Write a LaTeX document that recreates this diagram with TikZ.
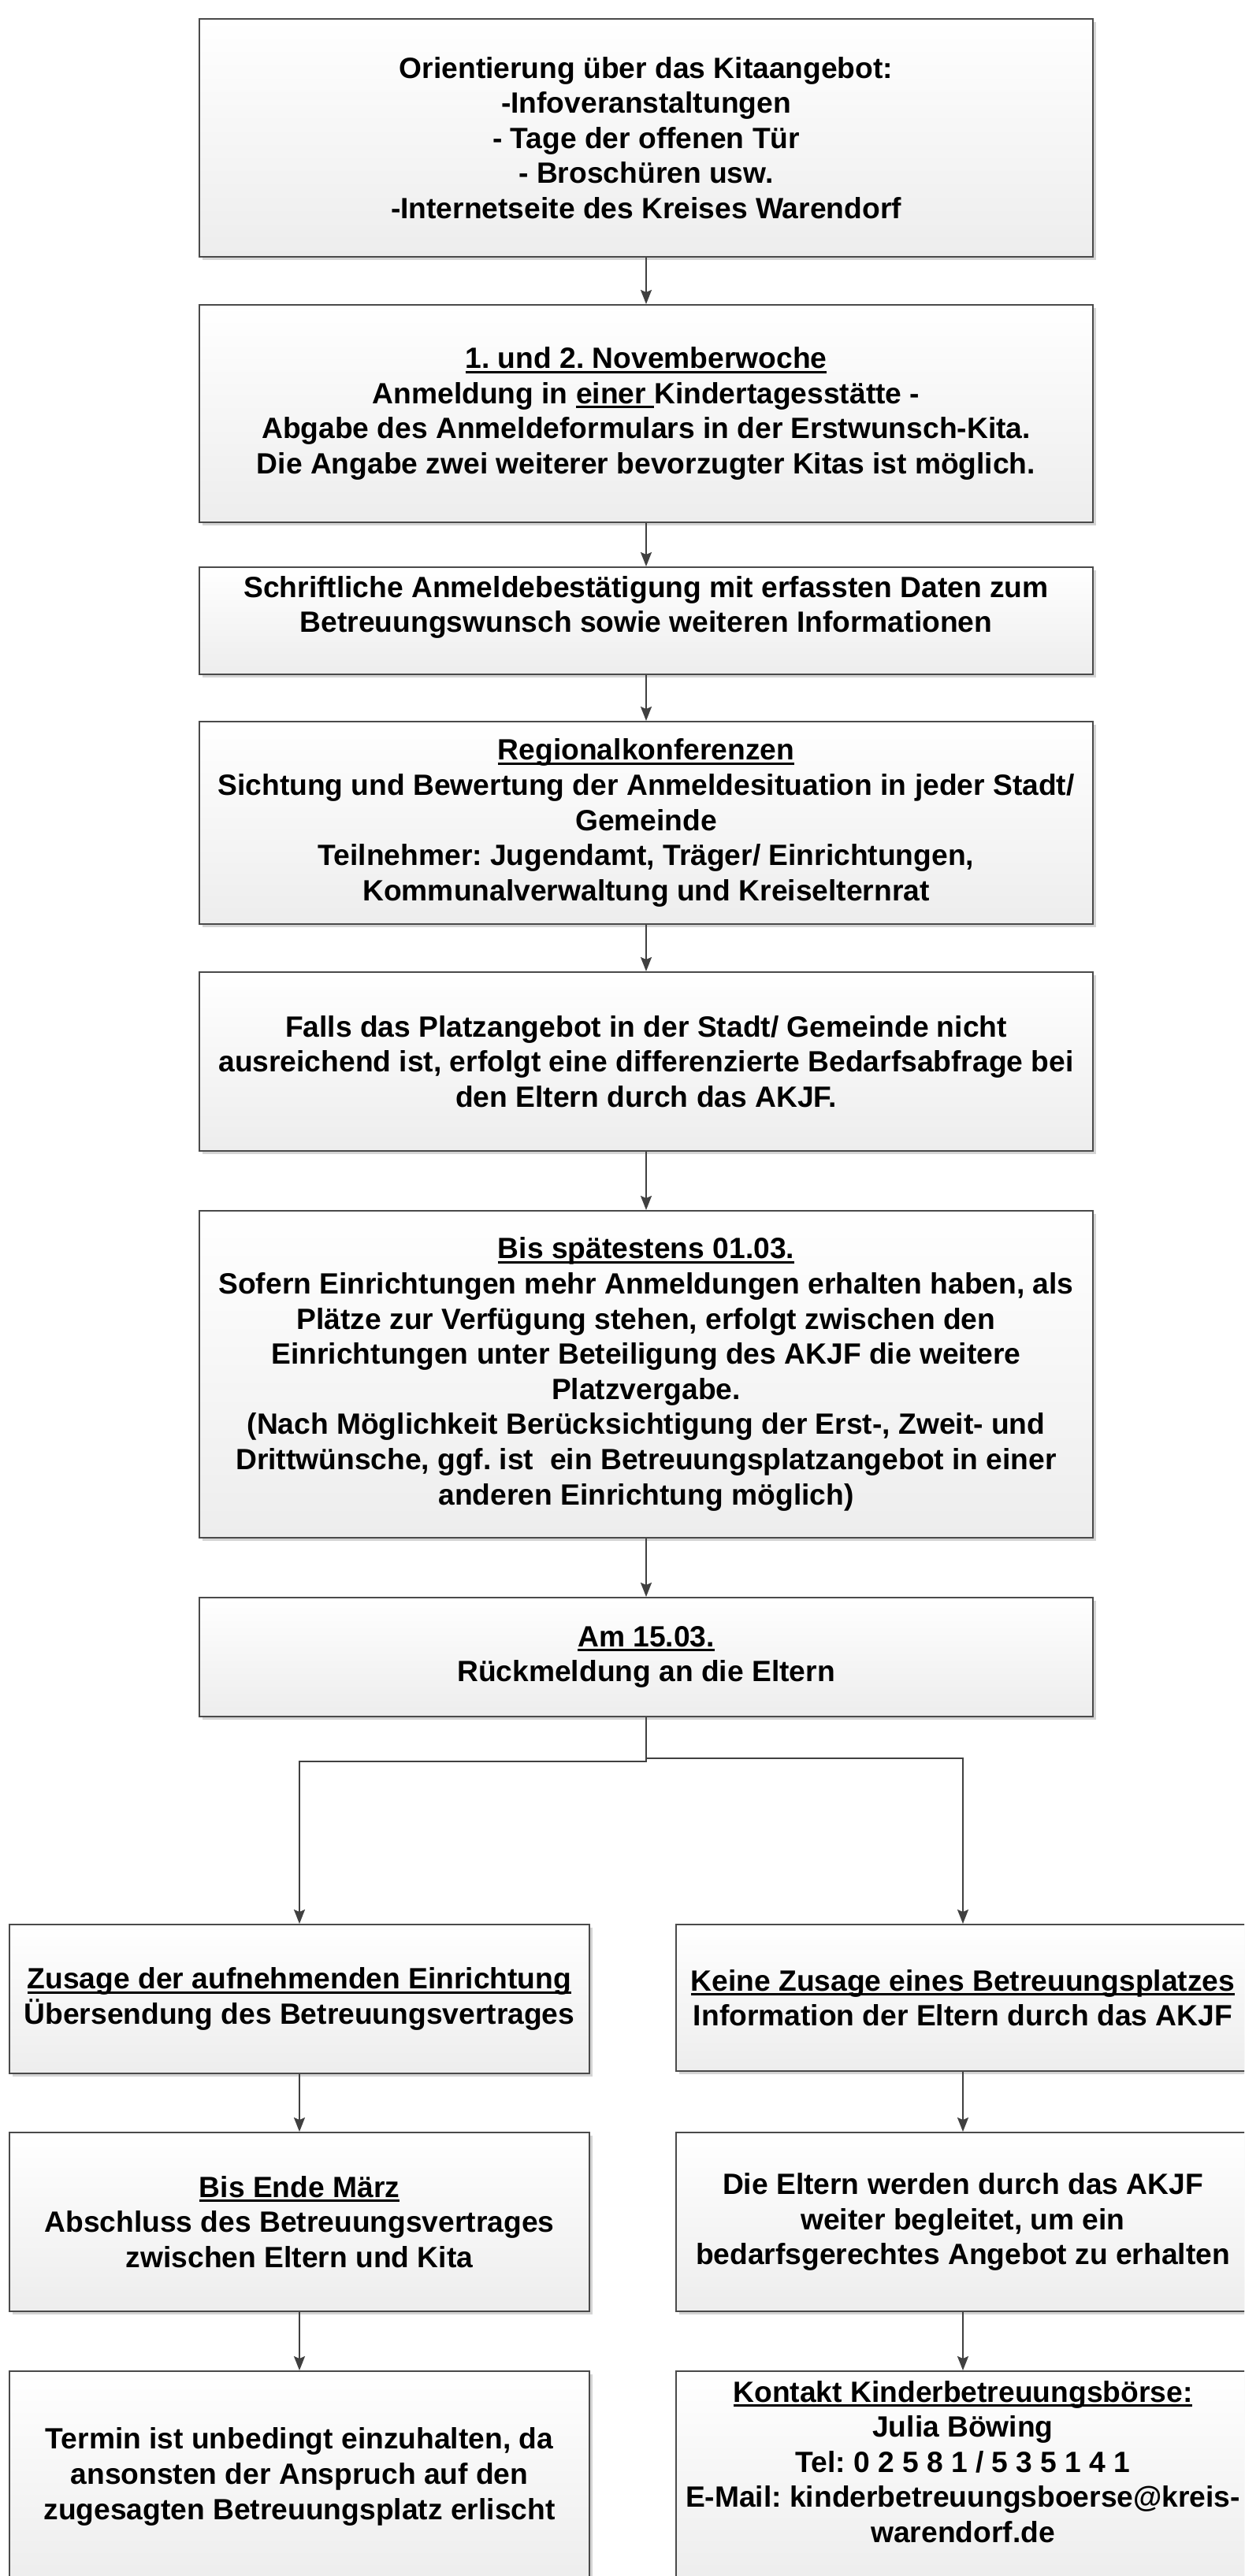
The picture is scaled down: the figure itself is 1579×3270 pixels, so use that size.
\documentclass[tikz,border=0pt]{standalone}
\usepackage{fontspec}
\setmainfont{Liberation Sans}
\usetikzlibrary{arrows.meta,shadows}
\frenchspacing
\newsavebox\ulbox
\newcommand\uln[1]{\sbox\ulbox{#1}\rlap{\rule[-6pt]{\wd\ulbox}{3pt}}\usebox\ulbox}
\definecolor{edge}{HTML}{4A4A4A}
\definecolor{arrowc}{HTML}{404040}
\definecolor{shade}{HTML}{EDEDED}
\definecolor{shadowc}{HTML}{D4D4D4}
\tikzset{
  box/.style={draw=edge, line width=2pt, rectangle, top color=white, bottom color=shade,
    inner sep=2pt, align=center, text=black,
    font=\fontsize{37.2}{44.6}\selectfont\bfseries\frenchspacing,
    drop shadow={shadow xshift=4pt, shadow yshift=-4pt, fill=shadowc, opacity=1}},
  txt/.style={inner sep=0pt, align=center, text=black, font=\fontsize{37.2}{44.6}\selectfont\bfseries\frenchspacing},
  wide/.style={minimum width=1134pt},
  narrow/.style={minimum width=736pt},
  arr/.style={draw=arrowc, line width=2pt, -{Stealth[length=18pt,width=14pt,inset=3pt]}}
}
\begin{document}
\begin{tikzpicture}[x=1pt,y=-1pt]
\useasboundingbox (0,0) rectangle (1579,3270);
\clip (0,0) rectangle (1579,3270);
\fill[white] (0,0) rectangle (1579,3270);

\node[box,wide,minimum height=302pt] (b1) at (820,175) {Orientierung über das Kitaangebot:\\-Infoveranstaltungen\\- Tage der offenen Tür\\- Broschüren usw.\\-Internetseite des Kreises Warendorf};

\node[box,wide,minimum height=276pt] (b2) at (820,525) {\uln{1. und 2. Novemberwoche}\\Anmeldung in \uln{einer }Kindertagesstätte -\\ Abgabe des Anmeldeformulars in der Erstwunsch-Kita.\\Die Angabe zwei weiterer bevorzugter Kitas ist möglich.};

\node[box,wide,minimum height=136pt] (b3) at (820,788) {};
\node[txt] (t3) at (820,771) {Schriftliche Anmeldebestätigung mit erfassten Daten zum\\Betreuungswunsch sowie weiteren Informationen};

\node[box,wide,minimum height=257pt] (b4) at (820,1044.5) {\uln{Regionalkonferenzen}\\Sichtung und Bewertung der Anmeldesituation in jeder Stadt/\\Gemeinde\\Teilnehmer: Jugendamt, Träger/ Einrichtungen,\\Kommunalverwaltung und Kreiselternrat};

\node[box,wide,minimum height=227pt] (b5) at (820,1347.5) {Falls das Platzangebot in der Stadt/ Gemeinde nicht\\ausreichend ist, erfolgt eine differenzierte Bedarfsabfrage bei\\den Eltern durch das AKJF.};

\node[box,wide,minimum height=415pt] (b6) at (820,1744.5) {\uln{Bis spätestens 01.03.}\\Sofern Einrichtungen mehr Anmeldungen erhalten haben, als\\Plätze zur Verfügung stehen, erfolgt zwischen den\\Einrichtungen unter Beteiligung des AKJF die weitere\\Platzvergabe.\\(Nach Möglichkeit Berücksichtigung der Erst-, Zweit- und\\Drittwünsche, ggf. ist\ \ ein Betreuungsplatzangebot in einer\\anderen Einrichtung möglich)};

\node[box,wide,minimum height=151pt] (b7) at (820,2103.5) {\uln{Am 15.03.}\\Rückmeldung an die Eltern};

\node[box,narrow,minimum height=189pt] (b8l) at (380,2537.5) {\uln{Zusage der aufnehmenden Einrichtung}\\Übersendung des Betreuungsvertrages};
\node[box,minimum width=728pt,minimum height=186pt] (b8r) at (1222,2536) {\uln{Keine Zusage eines Betreuungsplatzes}\\Information der Eltern durch das AKJF};

\node[box,narrow,minimum height=227pt] (b9l) at (380,2820.5) {\uln{Bis Ende März}\\Abschluss des Betreuungsvertrages\\zwischen Eltern und Kita};
\node[box,minimum width=728pt,minimum height=227pt] (b9r) at (1222,2820.5) {Die Eltern werden durch das AKJF\\weiter begleitet, um ein\\bedarfsgerechtes Angebot zu erhalten};

\node[box,narrow,minimum height=268pt] (b10l) at (380,3144) {Termin ist unbedingt einzuhalten, da\\ansonsten der Anspruch auf den\\zugesagten Betreuungsplatz erlischt};
\node[box,minimum width=728pt,minimum height=268pt] (b10r) at (1222,3144) {};
\node[txt] (t10r) at (1222,3125) {\uln{Kontakt Kinderbetreuungsbörse:}\\Julia Böwing\\Tel: 0 2 5 8 1 / 5 3 5 1 4 1\\E-Mail: kinderbetreuungsboerse@kreis-\\warendorf.de};

\draw[arr] (b1.south) -- (b2.north);
\draw[arr] (b2.south) -- (b3.north);
\draw[arr] (b3.south) -- (b4.north);
\draw[arr] (b4.south) -- (b5.north);
\draw[arr] (b5.south) -- (b6.north);
\draw[arr] (b6.south) -- (b7.north);
\draw[arr] (b7.south) -- ++(0,56) -| (b8l.north);
\draw[arr] (b7.south) -- ++(0,52) -| (b8r.north);
\draw[arr] (b8l.south) -- (b9l.north);
\draw[arr] (b8r.south) -- (b9r.north);
\draw[arr] (b9l.south) -- (b10l.north);
\draw[arr] (b9r.south) -- (b10r.north);
\end{tikzpicture}
\end{document}
